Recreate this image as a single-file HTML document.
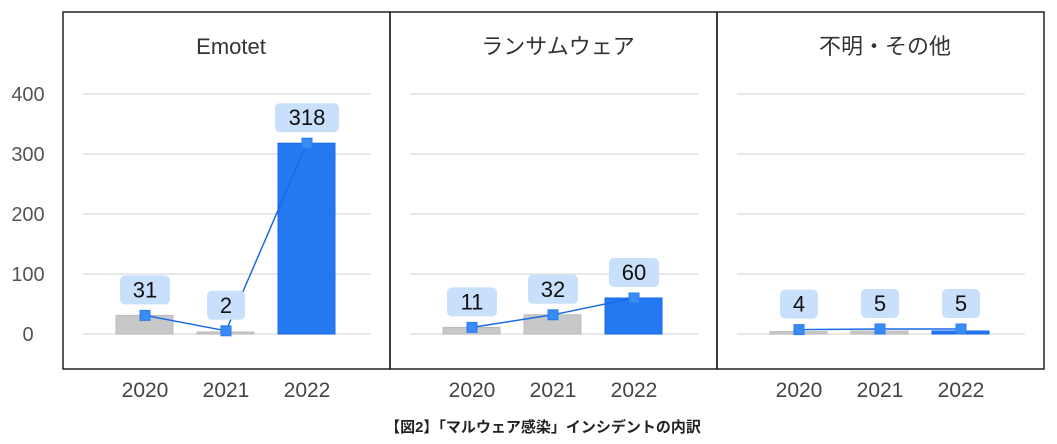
<!DOCTYPE html>
<html><head><meta charset="utf-8"><style>
body{margin:0;background:#fff;width:1057px;height:444px;overflow:hidden;font-family:"Liberation Sans","Noto Sans CJK JP",sans-serif}
</style></head><body>
<svg id="c" width="1057" height="444" style="position:absolute;left:0;top:0"></svg>
<script>
const panels=["Emotet","ランサムウェア","不明・その他"];
const years=["2020","2021","2022"];
const vEmotet=[31,2,318];
const vRansom=[11,32,60];
const vOther=[4,5,5];
const yTicks=[0,100,200,300,400];
const series=[vEmotet,vRansom,vOther];
const NS="http://www.w3.org/2000/svg";
const svg=document.getElementById('c');
function el(t,a,txt){const e=document.createElementNS(NS,t);for(const k in a)e.setAttribute(k,a[k]);if(txt!=null)e.textContent=txt;svg.appendChild(e);return e;}
const y=v=>334-0.6*v;
const px=(p,i)=>145+p*327+i*81;
yTicks.forEach(t=>{const e=el('text',{x:28,y:y(t)+7,'text-anchor':'middle','font-size':20,fill:'#555'},t);

});
panels.forEach((name,p)=>{
  const x0=63+p*327;
  const fr=el('rect',{x:x0,y:12,width:327,height:357,fill:'none',stroke:'#222','stroke-width':1.5});
  
  
  const tt=el('text',{x:x0+168,y:54,'text-anchor':'middle','font-size':22,fill:'#333'},name);
  
  
  yTicks.forEach(t=>{const g=el('line',{x1:x0+20,x2:x0+308,y1:y(t),y2:y(t),stroke:'#e0e0e0','stroke-width':1.5});
  
  });
  const vals=series[p];
  vals.forEach((v,i)=>{
    const cx=px(p,i);
    const h=Math.max(0.6*v,2);
    const b=el('rect',{x:cx-29,y:334-h,width:57,height:h,fill:i==2?'#2478f2':'#c8c8c8',stroke:i==2?'#1a6ae8':'#bbb','stroke-width':1});
    
    
    const yl=el('text',{x:cx,y:397,'text-anchor':'middle','font-size':21,fill:'#444'},years[i]);
    
    
  });
  let d='';vals.forEach((v,i)=>{d+=(i?'L':'M')+px(p,i)+','+(y(v)-(v<8?2:0));});
  const ln=el('path',{d:d,fill:'none',stroke:'#1a6ae8','stroke-width':1.5});
  
  
  vals.forEach((v,i)=>{
    const cx=px(p,i),cy=y(v)-(v<8?2:0);
    const m=el('rect',{x:cx-5,y:cy-5,width:10,height:10,fill:'#3a8cf5',stroke:'#2a7aef'});
    
    
    const s=String(v);const w=s.length==1?38:s.length==2?50:64;
    const bx=el('rect',{x:cx-w/2,y:cy-40,width:w,height:29,rx:5,fill:'#c8e0fb'});
    
    
    const tx=el('text',{x:cx,y:cy-18,'text-anchor':'middle','font-size':22,fill:'#111'},s);
    
    
  });
});
const cap=el('text',{x:543,y:432,'text-anchor':'middle','font-size':15,fill:'#222','font-weight':'bold'},'【図2】「マルウェア感染」インシデントの内訳');


</script>
</body></html>
